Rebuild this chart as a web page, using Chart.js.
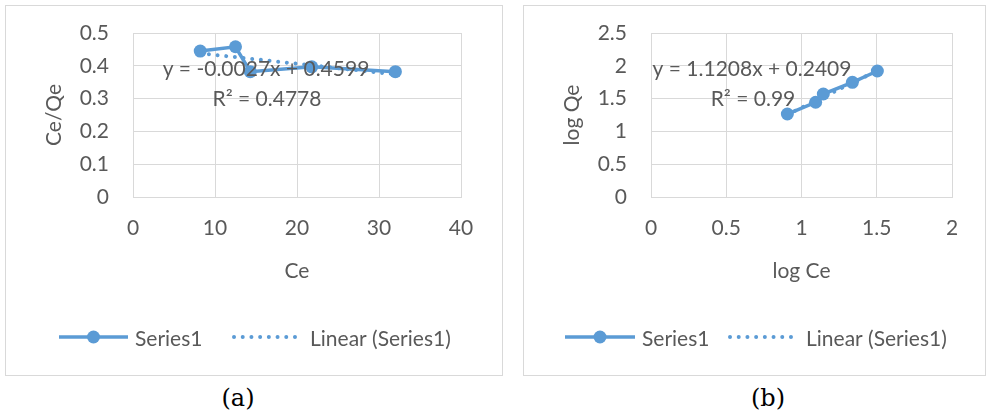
<!DOCTYPE html>
<html>
<head>
<meta charset="utf-8">
<script src="https://cdn.jsdelivr.net/npm/chart.js@4"></script>
<style>
  html, body { margin: 0; padding: 0; background: #fff; }
  body { width: 991px; height: 416px; position: relative; overflow: hidden; }
  .box { position: absolute; border: 1px solid #D9D9D9; box-sizing: border-box; }
  canvas { position: absolute; }
  .cap { position: absolute; font-family: "DejaVu Serif", serif; font-size: 24px; color: #000; transform: translateX(-50%); white-space: nowrap; }
</style>
</head>
<body>
<div class="box" style="left:5px;top:5px;width:498px;height:371px;"></div>
<div class="box" style="left:523px;top:5px;width:463px;height:371px;"></div>
<canvas id="ca" width="496" height="369" style="left:6px;top:6px;width:496px;height:369px;"></canvas>
<canvas id="cb" width="461" height="369" style="left:524px;top:6px;width:461px;height:369px;"></canvas>
<div class="cap" style="left:238px;top:384px;">(a)</div>
<div class="cap" style="left:768px;top:384px;">(b)</div>
<script>
// ---- Data (a): Ce vs Ce/Qe ----
const ceA = [8.2, 12.5, 14.3, 21.8, 32.0];
const ceQeA = [0.445, 0.458, 0.382, 0.397, 0.382];
const trendXA = [8.2, 32.0];
const trendYA = [0.438, 0.374];
const eqA = ["y = -0.0027x + 0.4599", "R² = 0.4778"];
const xTitleA = "Ce";
const yTitleA = "Ce/Qe";

// ---- Data (b): log Ce vs log Qe ----
const logCeB = [0.906, 1.094, 1.145, 1.338, 1.504];
const logQeB = [1.265, 1.444, 1.570, 1.748, 1.921];
const trendXB = [0.906, 1.504];
const trendYB = [1.256, 1.927];
const eqB = ["y = 1.1208x + 0.2409", "R² = 0.99"];
const xTitleB = "log Ce";
const yTitleB = "log Qe";

const legendLabels = ["Series1", "Linear (Series1)"];

const BLUE = "#5B9BD5";
const GRID = "#D9D9D9";
const TEXT = "#595959";
const FONT = "Lato";
const FS = 21;

Chart.defaults.font.family = FONT;
Chart.defaults.font.size = FS;
Chart.defaults.color = TEXT;

function pts(xs, ys) { return xs.map((x, i) => ({ x: x, y: ys[i] })); }
function fmt(v) { return String(+Number(v).toFixed(3)); }

function overlayPlugin(eq, eqPos, leg) {
  return {
    id: 'overlay',
    afterDraw(chart) {
      const ctx = chart.ctx;
      ctx.save();
      ctx.fillStyle = TEXT;
      ctx.font = FS + "px " + FONT;
      ctx.textAlign = "center";
      ctx.textBaseline = "alphabetic";
      ctx.fillText(eq[0], eqPos[0], eqPos[1]);
      ctx.fillText(eq[1], eqPos[2], eqPos[3]);
      const y = leg.y;
      ctx.strokeStyle = BLUE;
      ctx.lineWidth = 3.5;
      ctx.lineCap = "butt";
      ctx.beginPath(); ctx.moveTo(leg.l1, y); ctx.lineTo(leg.l2, y); ctx.stroke();
      ctx.fillStyle = BLUE;
      ctx.beginPath(); ctx.arc((leg.l1 + leg.l2) / 2, y, 6.5, 0, Math.PI * 2); ctx.fill();
      ctx.setLineDash([0.01, 8.7]);
      ctx.lineCap = "round";
      ctx.lineWidth = 4;
      ctx.beginPath(); ctx.moveTo(leg.d1, y); ctx.lineTo(leg.d2, y); ctx.stroke();
      ctx.setLineDash([]);
      ctx.fillStyle = TEXT;
      ctx.textAlign = "left";
      ctx.fillText(legendLabels[0], leg.t1, y + 8.5);
      ctx.fillText(legendLabels[1], leg.t2, y + 8.5);
      ctx.restore();
    }
  };
}

function makeChart(id, xs, ys, tx, ty, xr, yr, xTitle, yTitle, padRight, eq, eqPos, leg) {
  return new Chart(document.getElementById(id), {
    type: 'scatter',
    data: {
      datasets: [
        {
          label: legendLabels[0],
          data: pts(xs, ys),
          showLine: true,
          borderColor: BLUE,
          backgroundColor: BLUE,
          borderWidth: 3.5,
          pointRadius: 6.5,
          pointBorderWidth: 0,
          pointBackgroundColor: BLUE,
          tension: 0
        },
        {
          label: legendLabels[1],
          data: pts(tx, ty),
          showLine: true,
          borderColor: BLUE,
          borderWidth: 4,
          borderDash: [0.01, 8.7],
          borderCapStyle: 'round',
          pointRadius: 0
        }
      ]
    },
    options: {
      responsive: false,
      animation: false,
      events: [],
      layout: { padding: { left: 0, top: 27, right: padRight, bottom: 78 } },
      plugins: { legend: { display: false }, tooltip: { enabled: false } },
      scales: {
        x: {
          type: 'linear',
          min: xr[0], max: xr[1],
          ticks: { stepSize: xr[2], padding: 19, color: TEXT, callback: fmt },
          grid: { color: GRID, lineWidth: 1, drawTicks: false },
          border: { display: true, color: GRID, width: 1 },
          title: { display: true, text: xTitle, color: TEXT, padding: { top: 0, bottom: 13 } },
          afterFit(s) { s.height = 100; }
        },
        y: {
          type: 'linear',
          min: yr[0], max: yr[1],
          ticks: { stepSize: yr[2], padding: 0, color: TEXT, callback: fmt },
          grid: { color: GRID, lineWidth: 1, drawTicks: true, tickLength: 24, tickColor: 'rgba(0,0,0,0)' },
          border: { display: true, color: GRID, width: 1 },
          title: { display: true, text: yTitle, color: TEXT, padding: { top: 36, bottom: 0 } },
          afterFit(s) { s.width = 127; }
        }
      }
    },
    plugins: [overlayPlugin(eq, eqPos, leg)]
  });
}

makeChart('ca', ceA, ceQeA, trendXA, trendYA, [0, 40, 10], [0, 0.5, 0.1], xTitleA, yTitleA, 41,
  eqA, [260, 70, 261, 100],
  { y: 331, l1: 53, l2: 122, t1: 129, d1: 228, d2: 289, t2: 304 });

makeChart('cb', logCeB, logQeB, trendXB, trendYB, [0, 2, 0.5], [0, 2.5, 0.5], xTitleB, yTitleB, 33,
  eqB, [228, 70, 229, 100],
  { y: 331, l1: 41, l2: 111, t1: 118, d1: 206, d2: 269, t2: 282 });
</script>
</body>
</html>
